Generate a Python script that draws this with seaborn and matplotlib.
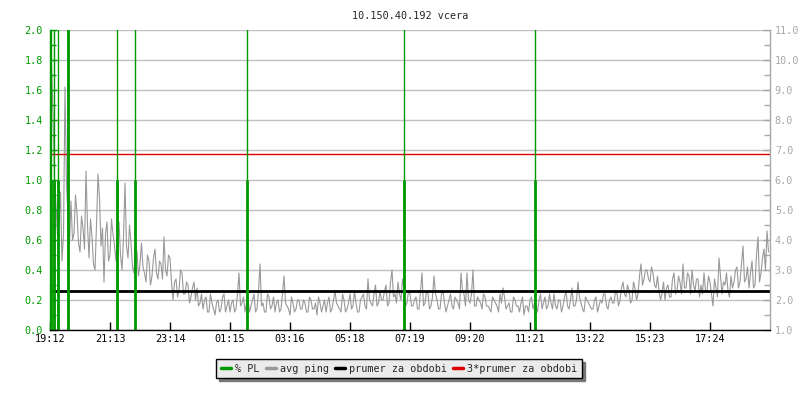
import numpy as np
import pandas as pd
import matplotlib
matplotlib.use("Agg")
import matplotlib.pyplot as plt
from matplotlib.lines import Line2D
from matplotlib.ticker import MultipleLocator, FormatStrFormatter
import seaborn as sns

title = "10.150.40.192 vcera"
time_labels = ["19:12", "21:13", "23:14", "01:15", "03:16", "05:18",
               "07:19", "09:20", "11:21", "13:22", "15:23", "17:24"]
tick_step_min = 121.1     # minutes between time labels
sample_step_min = 6.055   # minutes between ping samples

# avg ping [ms]
avg_ping = [
    10.3, 8.2, 5.2, 4.6, 3.3, 9.1, 4.8,
    5.3, 4.2, 4.9, 3.6, 4.4, 6.3, 3.4, 4.1, 3.0, 6.2, 3.8, 2.6, 4.6, 3.5,
    4.2, 3.3, 4.6, 3.0, 5.9, 3.4, 3.9, 2.9, 3.6, 3.2,
    3.1, 2.6, 3.3, 2.8, 3.7, 2.7, 3.2, 4.1, 2.8, 3.4,
    2.0, 2.7, 2.3, 2.9, 2.2, 2.5, 2.1, 2.6, 2.4, 1.9,
    1.7, 2.1, 1.6, 1.9, 1.5, 2.0, 1.7, 2.2, 1.8, 1.6, 2.0, 1.7, 2.9, 1.9, 1.6, 2.1,
    1.8, 2.2, 1.7, 3.2, 1.9, 1.6, 2.1, 1.8, 1.6, 2.0, 1.7, 2.8, 1.8, 1.5, 1.9, 1.7, 2.0,
    1.7, 1.9, 1.6, 2.0, 1.7, 1.5, 1.9, 1.8, 1.6, 2.1, 1.7, 2.3, 1.8, 1.6, 2.0, 1.7,
    2.2, 1.8, 1.9, 1.6, 2.1, 1.8, 2.7, 1.9, 2.2, 1.8, 2.3,
    2.0, 2.5, 1.9, 3.0, 2.2, 2.6, 2.0, 2.4, 1.9, 2.2,
    1.8, 2.1, 1.7, 2.9, 1.9, 2.2, 1.8, 2.8, 2.0, 1.7, 2.3, 1.6, 2.0, 1.8, 2.1, 1.9,
    2.9, 2.2, 2.9, 1.9, 3.0, 1.8, 2.0, 1.7, 2.1, 1.8, 1.6, 2.0, 1.8, 2.2, 2.4, 1.7,
    1.9, 1.6, 2.0, 1.8, 1.9, 1.5, 1.8, 2.0, 1.7,
    1.8, 2.0, 1.7, 2.1, 1.8, 1.9, 2.2, 1.7, 2.0, 1.8, 2.3, 1.7, 2.4, 1.8, 2.6, 1.9,
    1.6, 2.0, 1.8, 1.7, 2.1, 1.8, 1.9, 2.2, 1.7, 2.1, 1.9, 2.2, 2.0,
    2.6, 2.1, 2.3, 2.0, 2.4, 2.2, 3.2, 2.7, 3.0, 2.6, 2.9, 2.4, 2.3,
    2.2, 2.0, 2.5, 2.1, 2.9, 2.3, 2.6, 3.2, 2.4, 2.8, 3.0, 2.3, 2.7,
    2.5, 2.9, 2.3, 2.6, 1.8, 2.4, 3.4, 2.2, 2.5, 2.3, 2.8, 2.6, 3.1,
    2.6, 3.8, 2.7, 2.4, 3.3, 2.5, 4.1, 2.9, 3.7, 4.3,
]

# avg ping [ms] at the samples half way between the ones above
avg_ping_half = [
    9.8, 6.0, 4.1, 5.6, 4.2, 5.8, 3.9,
    4.0, 5.5, 3.9, 4.8, 3.7, 4.5, 4.7, 3.2, 4.5, 5.4, 4.4, 4.2, 3.3, 4.7,
    3.8, 4.4, 3.5, 4.1, 3.8, 4.5, 3.1, 3.8, 2.8, 3.9,
    2.9, 3.5, 2.5, 3.4, 2.9, 3.3, 2.7, 3.0, 3.5, 2.6,
    2.6, 2.1, 3.0, 2.2, 2.6, 1.9, 2.4, 2.0, 1.8, 2.2,
    2.0, 1.6, 2.2, 1.7, 1.9, 1.6, 2.1, 1.6, 2.0, 1.9, 1.6, 2.2, 1.8, 2.1, 1.9, 1.6,
    2.0, 1.6, 2.3, 1.8, 1.6, 2.2, 1.7, 2.1, 1.9, 1.6, 2.2, 1.9, 1.7, 2.1, 1.6, 2.0, 1.7,
    2.0, 1.6, 2.1, 1.7, 1.9, 2.1, 1.6, 2.0, 1.9, 1.6, 2.0, 1.9, 1.7, 2.2, 1.6, 1.9,
    1.7, 2.3, 1.6, 2.0, 2.2, 1.7, 2.0, 1.8, 2.5, 1.9, 2.0,
    2.3, 1.8, 2.6, 2.1, 1.9, 2.2, 2.7, 1.8, 2.3, 1.8,
    2.0, 1.7, 2.3, 1.8, 2.3, 1.7, 2.1, 2.2, 1.7, 2.2, 1.9, 1.8, 2.2, 1.7, 2.0, 1.7,
    2.3, 1.8, 2.0, 2.2, 1.8, 2.1, 1.9, 2.2, 1.8, 1.7, 2.1, 1.9, 1.6, 1.9, 2.1, 1.8,
    1.6, 2.1, 1.8, 1.6, 2.1, 1.8, 1.6, 2.1, 1.9,
    1.6, 2.2, 1.9, 1.7, 2.2, 1.7, 1.8, 2.0, 1.6, 2.1, 1.8, 2.0, 1.8, 2.0, 2.1, 1.7,
    2.1, 1.9, 1.7, 2.0, 1.6, 2.0, 2.2, 1.8, 2.0, 1.9, 2.3, 1.8, 2.4,
    2.2, 2.5, 1.9, 2.6, 2.0, 2.8, 2.5, 3.0, 2.7, 3.1, 2.5, 2.8, 2.0,
    2.6, 2.4, 2.1, 2.7, 2.2, 2.8, 2.2, 2.4, 2.9, 2.2, 2.5, 2.7, 2.1,
    2.2, 2.3, 2.8, 2.2, 2.7, 2.1, 2.8, 2.6, 2.9, 2.1, 2.4, 3.0, 2.4,
    3.2, 2.6, 3.1, 2.9, 2.4, 3.5, 2.6, 3.4, 3.0, 3.6,
]

# packet loss events [minutes from start], loss value and off-scale spike
pl_minutes = [1.4, 7.5, 15.7, 36.7, 134.6, 171.1, 398.0, 715.3, 978.8]
pl_pct = [1.0, 1.0, 1.0, 100.0, 1.0, 1.0, 1.0, 1.0, 1.0]
pl_peak = [100.0, 100.0, 100.0, 100.0, 100.0, 100.0, 100.0, 100.0, 100.0]

avg_mean = 2.29

GREEN = "#009a00"
GRAY = "#999999"
RED = "#dd0000"
AXGRAY = "#a8a8a8"
FS = 7.3

sns.set_theme(style="white")
plt.rcParams['font.family'] = ['DejaVu Sans Mono']

fig = plt.figure(figsize=(8, 4), dpi=100)
ax = fig.add_axes([0.0625, 0.175, 0.9, 0.75])
ax2 = ax.twinx()
ax.set_zorder(ax2.get_zorder() + 1)
ax.patch.set_visible(False)

# ping on right axis
df = pd.concat([
    pd.DataFrame({"minute": np.arange(len(avg_ping)) * sample_step_min,
                  "ping": avg_ping}),
    pd.DataFrame({"minute": (np.arange(len(avg_ping_half)) + 0.5) * sample_step_min,
                  "ping": avg_ping_half}),
]).sort_values("minute")
ax2.yaxis.grid(True, color="#c0c0c0", lw=1)
ax2.set_axisbelow(True)
sns.lineplot(data=df, x="minute", y="ping", ax=ax2, color=GRAY, lw=0.8, sort=True)
ax2.axhline(avg_mean, color="black", lw=2)
ax2.axhline(3 * avg_mean, color=RED, lw=1)

# packet loss on left axis
ax.vlines(pl_minutes, 0, pl_peak, color=GREEN, lw=1)
ax.vlines(pl_minutes, 0, pl_pct, color=GREEN, lw=2.0)

xmax = len(time_labels) * tick_step_min
ax.set_xlim(0, xmax)
ax.set_xticks(np.arange(len(time_labels)) * tick_step_min)
ax.set_xticklabels(time_labels)
ax.set_ylim(0, 2)
ax2.set_ylim(1, 11)

ax.yaxis.set_major_locator(MultipleLocator(0.2))
ax.yaxis.set_minor_locator(MultipleLocator(0.1))
ax.yaxis.set_major_formatter(FormatStrFormatter("%.1f"))
ax2.yaxis.set_major_locator(MultipleLocator(1))
ax2.yaxis.set_minor_locator(MultipleLocator(0.5))
ax2.yaxis.set_major_formatter(FormatStrFormatter("%.1f"))

ax.tick_params(axis="x", direction="in", length=6, width=1, color="black",
               labelsize=FS, labelcolor="black", pad=3, bottom=True)
ax.tick_params(axis="y", which="both", direction="in", color=GREEN,
               labelcolor=GREEN, labelsize=FS, pad=5, left=True, width=1)
ax.tick_params(axis="y", which="major", length=5)
ax.tick_params(axis="y", which="minor", length=4)
ax2.tick_params(axis="y", which="both", direction="in", color=AXGRAY,
                labelcolor=AXGRAY, labelsize=FS, pad=3.5, right=True, width=1)
ax2.tick_params(axis="y", which="major", length=5)
ax2.tick_params(axis="y", which="minor", length=4)

for s in ["top", "right"]:
    ax.spines[s].set_visible(False)
ax.spines["left"].set_color(GREEN)
ax.spines["bottom"].set_color("black")
for s in ["top", "left", "bottom"]:
    ax2.spines[s].set_visible(False)
ax2.spines["right"].set_color(AXGRAY)
for a in (ax, ax2):
    a.set_xlabel("")
    a.set_ylabel("")
    for s in a.spines.values():
        s.set_linewidth(1)

ax.set_title(title, fontsize=FS, pad=8)

handles = [Line2D([], [], color=GREEN, lw=2.5),
           Line2D([], [], color=GRAY, lw=2.5),
           Line2D([], [], color="black", lw=2.5),
           Line2D([], [], color=RED, lw=2.5)]
labels = ["% PL", "avg ping", "prumer za obdobi", "3*prumer za obdobi"]
leg = fig.legend(handles, labels, loc="lower center", bbox_to_anchor=(0.499, 0.042),
                 ncol=4, fontsize=FS, frameon=True, fancybox=False,
                 shadow={"color": "#777777", "alpha": 1}, framealpha=1,
                 facecolor="#ebebeb", edgecolor="black", borderpad=0.45,
                 handlelength=1.0, handletextpad=0.4, columnspacing=0.6)
leg.get_frame().set_linewidth(1)

fig.savefig("out.png", dpi=100)
